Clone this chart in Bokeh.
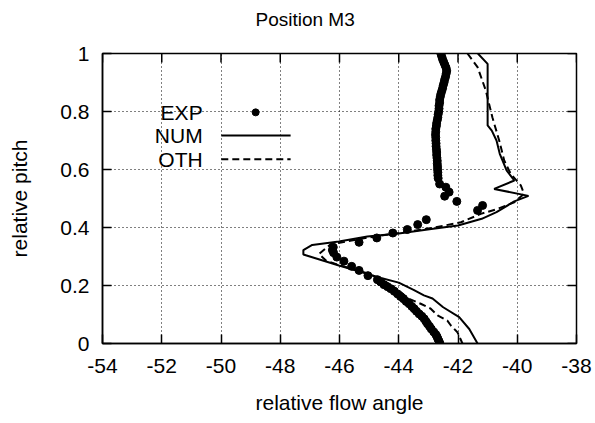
from bokeh.plotting import figure
from bokeh.models import FixedTicker, Range1d, Label
from bokeh.embed import file_html
from bokeh.resources import INLINE

FONT = "Liberation Sans"
FS = "21px"

# ---------------- data ----------------
x_ticks = [-54, -52, -50, -48, -46, -44, -42, -40, -38]
x_tick_labels = ["-54", "-52", "-50", "-48", "-46", "-44", "-42", "-40", "-38"]
y_ticks = [0, 0.2, 0.4, 0.6, 0.8, 1.0]
y_tick_labels = ["0", "0.2", "0.4", "0.6", "0.8", "1"]

exp_angle = [-42.58, -42.55, -42.52, -42.48, -42.44, -42.40, -42.38, -42.40, -42.42, -42.45,
             -42.47, -42.50, -42.52, -42.55, -42.58, -42.60, -42.62, -42.62, -42.64, -42.64,
             -42.65, -42.67, -42.68, -42.70, -42.72, -42.73, -42.75, -42.75, -42.76, -42.75,
             -42.75, -42.74, -42.74, -42.73, -42.72, -42.72, -42.71, -42.70, -42.70, -42.69,
             -42.69, -42.68, -42.68, -42.67,
             -42.62, -42.41, -42.30, -42.45, -42.04, -41.17, -41.34,
             -43.07, -43.36, -43.71, -44.20, -44.74, -45.34, -46.21, -46.24, -46.20, -46.09,
             -45.85, -45.59, -45.34, -45.04, -44.72, -44.61, -44.50, -44.38, -44.27, -44.15,
             -44.04, -43.94, -43.84, -43.75, -43.65, -43.56, -43.48, -43.40, -43.31, -43.22,
             -43.14, -43.08, -43.03, -42.96, -42.90, -42.82, -42.75, -42.71, -42.68, -42.64,
             -42.61]
exp_pitch = [1.00, 0.99, 0.98, 0.97, 0.96, 0.95, 0.94, 0.93, 0.92, 0.91,
             0.90, 0.89, 0.88, 0.87, 0.86, 0.85, 0.84, 0.83, 0.82, 0.81,
             0.80, 0.79, 0.78, 0.77, 0.76, 0.75, 0.74, 0.73, 0.72, 0.71,
             0.70, 0.69, 0.68, 0.67, 0.66, 0.65, 0.64, 0.63, 0.62, 0.61,
             0.60, 0.59, 0.58, 0.57,
             0.550, 0.539, 0.522, 0.508, 0.490, 0.476, 0.459,
             0.427, 0.410, 0.393, 0.381, 0.364, 0.349, 0.332, 0.322, 0.313, 0.298,
             0.284, 0.266, 0.252, 0.234, 0.220, 0.212, 0.203, 0.196, 0.189, 0.180,
             0.171, 0.162, 0.154, 0.145, 0.137, 0.128, 0.120, 0.111, 0.102, 0.094,
             0.085, 0.076, 0.068, 0.059, 0.050, 0.040, 0.031, 0.024, 0.016, 0.008,
             0.000]

num_angle = [-41.33, -41.00, -41.00, -41.00, -41.00, -40.86, -40.70, -40.59, -40.36, -40.10,
             -40.78, -39.62, -40.10, -40.70, -41.20, -42.00, -42.90, -44.00, -45.06, -46.02,
             -46.92, -47.22, -47.22, -46.02, -45.06, -44.60, -44.00, -43.50, -43.15, -42.86,
             -42.50, -41.96, -41.62, -41.34]
num_pitch = [1.000, 0.964, 0.900, 0.800, 0.752, 0.734, 0.700, 0.654, 0.597, 0.562,
             0.533, 0.509, 0.490, 0.453, 0.430, 0.407, 0.395, 0.379, 0.369, 0.352,
             0.340, 0.322, 0.307, 0.269, 0.240, 0.226, 0.210, 0.185, 0.166, 0.155,
             0.125, 0.091, 0.050, 0.000]

oth_angle = [-41.68, -41.34, -41.06, -40.84, -40.61, -40.44, -40.22, -39.88, -39.77, -40.10,
             -40.67, -41.23, -41.90, -42.90, -44.00, -45.00, -46.00, -46.28, -46.69, -46.46,
             -46.00, -45.00, -44.30, -43.93, -43.65, -43.26, -42.92, -42.69, -42.36, -42.24,
             -42.02, -41.85]
oth_pitch = [1.000, 0.953, 0.872, 0.780, 0.700, 0.631, 0.585, 0.545, 0.516, 0.487,
             0.464, 0.447, 0.418, 0.398, 0.381, 0.366, 0.347, 0.344, 0.309, 0.286,
             0.270, 0.240, 0.205, 0.177, 0.154, 0.137, 0.120, 0.097, 0.079, 0.062,
             0.039, 0.000]

# ---------------- figure ----------------
X0, X1, Y0, Y1 = -54, -38, 0, 1
FRAME_W, FRAME_H = 474, 290
TICK = 9

p = figure(width=595, height=423, output_backend="svg", toolbar_location=None,
           x_range=Range1d(X0, X1), y_range=Range1d(Y0, Y1),
           min_border_left=102, min_border_right=19, min_border_top=53, min_border_bottom=80,
           title="Position M3")
p.background_fill_color = "white"
p.border_fill_color = "white"
p.outline_line_color = "black"
p.outline_line_width = 1.5

p.title.text_font = FONT
p.title.text_font_size = "19px"
p.title.text_font_style = "normal"
p.title.text_color = "black"
p.title.align = "left"
p.title.offset = 153
p.title.vertical_align = "top"
p.title.standoff = 10
try:
    # extra room under the title text pushes it up, away from the frame
    p.title.padding = dict(left=0, right=0, top=0, bottom=17)
except Exception:
    pass

xa = p.below[0]
ya = p.left[0]
for ax, ticks, labels in ((xa, x_ticks, x_tick_labels), (ya, y_ticks, y_tick_labels)):
    ax.ticker = FixedTicker(ticks=ticks)
    ax.major_label_overrides = {t: s for t, s in zip(ticks, labels)}
    ax.major_tick_in = TICK
    ax.major_tick_out = 0
    ax.minor_tick_in = 0
    ax.minor_tick_out = 0
    ax.major_tick_line_color = "black"
    ax.major_tick_line_width = 1.5
    ax.axis_line_color = "black"
    ax.axis_line_width = 1.5
    ax.major_label_text_font = FONT
    ax.major_label_text_font_size = FS
    ax.major_label_text_color = "black"
    ax.axis_label_text_font = FONT
    ax.axis_label_text_font_size = FS
    ax.axis_label_text_font_style = "normal"
    ax.axis_label_text_color = "black"

xa.axis_label = "relative flow angle"
ya.axis_label = "relative pitch"
xa.major_label_standoff = 15
ya.major_label_standoff = 13
xa.axis_label_standoff = 15
ya.axis_label_standoff = 26

# mirrored ticks on top and right sides (inward)
dx = (X1 - X0) * TICK / FRAME_W
dy = (Y1 - Y0) * TICK / FRAME_H
p.segment(x0=x_ticks, y0=[Y1] * len(x_ticks), x1=x_ticks, y1=[Y1 - dy] * len(x_ticks),
          line_color="black", line_width=1.5)
p.segment(x0=[X1] * len(y_ticks), y0=y_ticks, x1=[X1 - dx] * len(y_ticks), y1=y_ticks,
          line_color="black", line_width=1.5)

p.xgrid.ticker = FixedTicker(ticks=x_ticks)
p.ygrid.ticker = FixedTicker(ticks=y_ticks)
for g in (p.xgrid, p.ygrid):
    g.grid_line_color = "black"
    g.grid_line_dash = "1 3"
    g.grid_line_width = 1

# data
p.line(num_angle, num_pitch, line_color="black", line_width=2)
p.line(oth_angle, oth_pitch, line_color="black", line_width=2, line_dash="7 4")
p.scatter(exp_angle, exp_pitch, size=8, color="black")

# legend (gnuplot style: text right-aligned, sample to the right)
leg_text_x = -50.62
leg_rows = [("EXP", 0.797), ("NUM", 0.717), ("OTH", 0.635)]
for name, yy in leg_rows:
    p.add_layout(Label(x=leg_text_x, y=yy, text=name, text_align="right",
                       text_baseline="middle", text_font=FONT, text_font_size=FS,
                       text_color="black"))
p.scatter([-48.83], [leg_rows[0][1]], size=7, color="black")
p.line([-49.99, -47.65], [leg_rows[1][1]] * 2, line_color="black", line_width=2)
p.line([-49.99, -47.65], [leg_rows[2][1]] * 2, line_color="black", line_width=2, line_dash="7 4")

open("out.html", "w").write(file_html(p, INLINE))
